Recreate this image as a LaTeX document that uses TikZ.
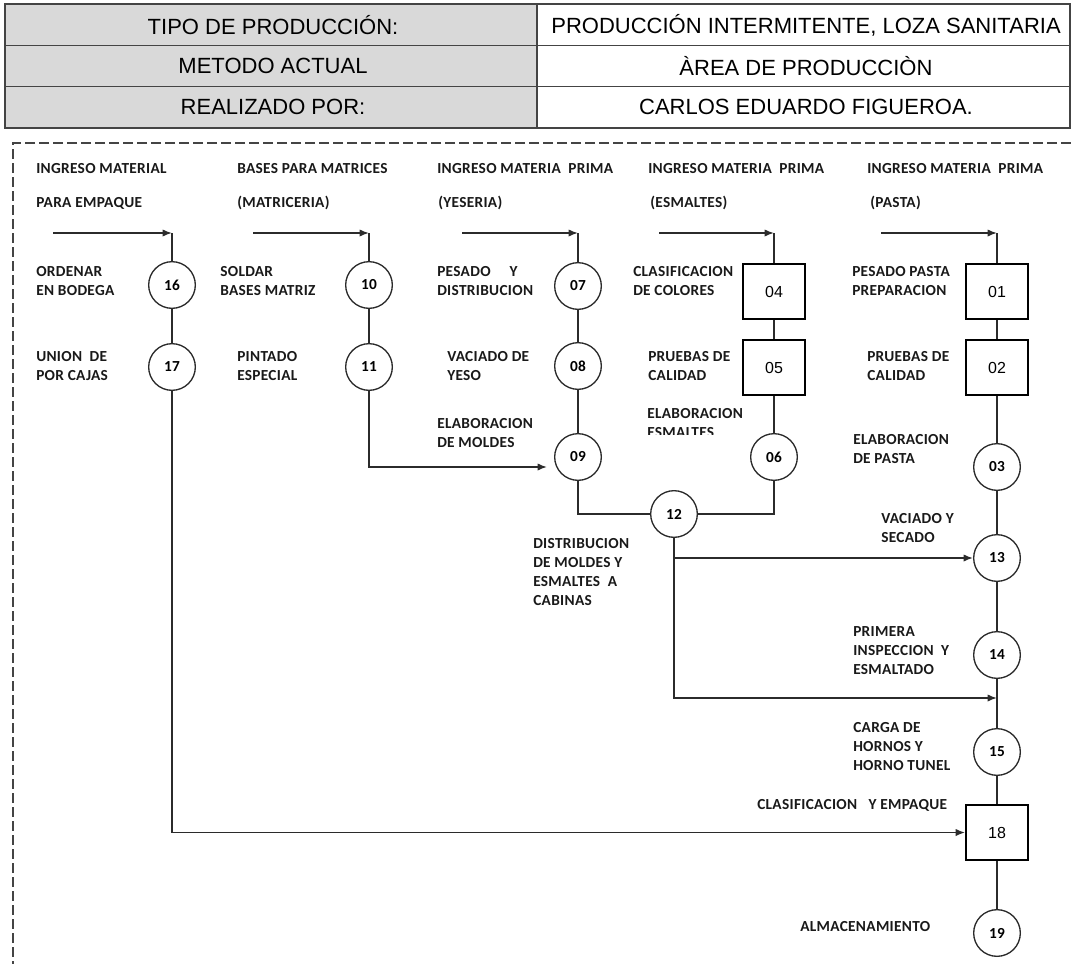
\documentclass[tikz,border=0pt]{standalone}
\usepackage{fontspec}
\setmainfont{Liberation Sans}
\newfontfamily\lblfont{Carlito}[LetterSpace=2]
\usetikzlibrary{arrows.meta}
\definecolor{framegray}{HTML}{444444}
\definecolor{cellgray}{HTML}{D9D9D9}
\definecolor{linegray}{HTML}{2B2B2B}
\tikzset{
  cell/.style={draw=framegray, line width=1.4pt},
  celltext/.style={font=\fontsize{16.5}{19}\selectfont, text=black},
  lbl/.style={anchor=west, inner sep=0pt, align=left, text=black!90,
    font=\lblfont\bfseries\fontsize{11.5}{14.25}\selectfont},
  opcircle/.style={circle, draw=linegray, line width=1pt, minimum size=35pt, inner sep=0pt,
    font=\lblfont\bfseries\fontsize{11.5}{12}\selectfont},
  opbox/.style={rectangle, draw=black, line width=1.4pt, minimum width=46.5pt,
    minimum height=41.25pt, inner sep=0pt, font=\fontsize{12}{14}\selectfont},
  flow/.style={draw=linegray, line width=1.2pt},
  arr/.style={flow, -{Latex[length=7pt,width=5.5pt]}},
  frame/.style={draw=framegray, line width=1.2pt, dash pattern=on 7.5pt off 3pt}
}
\begin{document}
\begin{tikzpicture}[x=0.75pt,y=-0.75pt]
\useasboundingbox (0,0) rectangle (1071,964);

% header table
\fill[cellgray] (5,4) rectangle (537,128);
\draw[cell] (5,4) rectangle (1070,128);
\draw[cell] (537,4) -- (537,128);
\draw[cell] (5,45.5) -- (1070,45.5);
\draw[cell] (5,86.5) -- (1070,86.5);
\node[celltext] (t1l) at (273,25) {TIPO DE PRODUCCIÓN:};
\node[celltext] (t1r) at (806,25) {PRODUCCIÓN INTERMITENTE, LOZA SANITARIA};
\node[celltext] (t2l) at (273,66) {METODO ACTUAL};
\node[celltext] (t2r) at (806,66) {ÀREA DE PRODUCCIÒN};
\node[celltext] (t3l) at (273,107) {REALIZADO POR:};
\node[celltext] (t3r) at (806,107) {CARLOS EDUARDO FIGUEROA.};

% dashed frame around the process chart
\draw[frame] (1071,143) -- (13,143) -- (13,964);

% column headings
\node[lbl] (h1a) at (36,169) {INGRESO MATERIAL};
\node[lbl] (h1b) at (36,203) {PARA EMPAQUE};
\node[lbl] (h2a) at (237,169) {BASES PARA MATRICES};
\node[lbl] (h2b) at (237,203) {(MATRICERIA)};
\node[lbl] (h3a) at (437,169) {INGRESO MATERIA\ \ PRIMA};
\node[lbl] (h3b) at (438,203) {(YESERIA)};
\node[lbl] (h4a) at (648,169) {INGRESO MATERIA\ \ PRIMA};
\node[lbl] (h4b) at (650,203) {(ESMALTES)};
\node[lbl] (h5a) at (867,169) {INGRESO MATERIA\ \ PRIMA};
\node[lbl] (h5b) at (870,203) {(PASTA)};

% entry arrows
\coordinate (s1) at (53,233);  \coordinate (k1) at (172,233);
\coordinate (s2) at (253,233); \coordinate (k2) at (369,233);
\coordinate (s3) at (462,233); \coordinate (k3) at (578,233);
\coordinate (s4) at (659,233); \coordinate (k4) at (774,233);
\coordinate (s5) at (881,233); \coordinate (k5) at (997,233);

% operations
\node[opcircle] (c16) at (172,285) {16};
\node[opcircle] (c17) at (172,367) {17};
\node[opcircle] (c10) at (369,285) {10};
\node[opcircle] (c11) at (369,367) {11};
\node[opcircle] (c07) at (578,286) {07};
\node[opcircle] (c08) at (578,366) {08};
\node[opcircle] (c09) at (578,457) {09};
\node[opbox]    (b04) at (774,291.5) {04};
\node[opbox]    (b05) at (774,367.5) {05};
\node[opcircle] (c06) at (774,457) {06};
\node[opcircle] (c12) at (674,514) {12};
\node[opbox]    (b01) at (997,291.5) {01};
\node[opbox]    (b02) at (997,367.5) {02};
\node[opcircle] (c03) at (997,467) {03};
\node[opcircle] (c13) at (997,558) {13};
\node[opcircle] (c14) at (997,655) {14};
\node[opcircle] (c15) at (997,752) {15};
\node[opbox]    (b18) at (997,832.5) {18};
\node[opcircle] (c19) at (997,933) {19};

% operation labels
\node[lbl] (l16) at (36,281.5) {ORDENAR\\EN BODEGA};
\node[lbl] (l17) at (36,366.5) {UNION\ \ DE\\POR CAJAS};
\node[lbl] (l10) at (220,281.5) {SOLDAR\\BASES MATRIZ};
\node[lbl] (l11) at (237,366.5) {PINTADO\\ESPECIAL};
\node[lbl] (l07) at (437,281.5) {PESADO\ \ \ \ \ Y\\DISTRIBUCION};
\node[lbl] (l08) at (447,366.5) {VACIADO DE\\YESO};
\node[lbl] (l09) at (437,433.5) {ELABORACION\\DE MOLDES};
\node[lbl] (l12) at (533,572.5) {DISTRIBUCION\\DE MOLDES Y\\ESMALTES\ \ A\\CABINAS};
\node[lbl] (l04) at (633,281.5) {CLASIFICACION\\DE COLORES};
\node[lbl] (l05) at (648,366.5) {PRUEBAS DE\\CALIDAD};
\begin{scope}
  \clip (600,400) rectangle (760,434);
  \node[lbl] (l06) at (647,423.5) {ELABORACION\\ESMALTES};
\end{scope}
\node[lbl] (l01) at (852,281.5) {PESADO PASTA\\PREPARACION};
\node[lbl] (l02) at (867,366.5) {PRUEBAS DE\\CALIDAD};
\node[lbl] (l03) at (853,449.5) {ELABORACION\\DE PASTA};
\node[lbl] (l13) at (881,528.5) {VACIADO Y\\SECADO};
\node[lbl] (l14) at (853,651) {PRIMERA\\INSPECCION\ \ Y\\ESMALTADO};
\node[lbl] (l15) at (853,747) {CARGA DE\\HORNOS Y\\HORNO TUNEL};
\node[lbl] (l18) at (757,805) {CLASIFICACION\ \ \ Y EMPAQUE};
\node[lbl] (l19) at (800,927) {ALMACENAMIENTO};

% flow lines
\draw[arr] (s1) -- (k1);
\draw[arr] (s2) -- (k2);
\draw[arr] (s3) -- (k3);
\draw[arr] (s4) -- (k4);
\draw[arr] (s5) -- (k5);
\draw[flow] (k1) -- (c16) -- (c17);
\draw[flow] (k2) -- (c10) -- (c11);
\draw[flow] (k3) -- (c07) -- (c08) -- (c09);
\draw[flow] (k4) -- (b04) -- (b05) -- (c06);
\draw[flow] (k5) -- (b01) -- (b02) -- (c03) -- (c13) -- (c14) -- (c15) -- (b18) -- (c19);

\coordinate (m09) at (547,467);
\draw[arr] (c11.south) |- (m09);
\draw[flow] (c09.south) |- (c12.west);
\draw[flow] (c06.south) |- (c12.east);
\coordinate (j14) at (997,698);
\draw[arr] (c12.south) |- (j14);
\draw[arr] (c12.south |- c13.west) -- (c13.west);
\draw[arr] (c17.south) |- (b18.west);
\end{tikzpicture}
\end{document}
